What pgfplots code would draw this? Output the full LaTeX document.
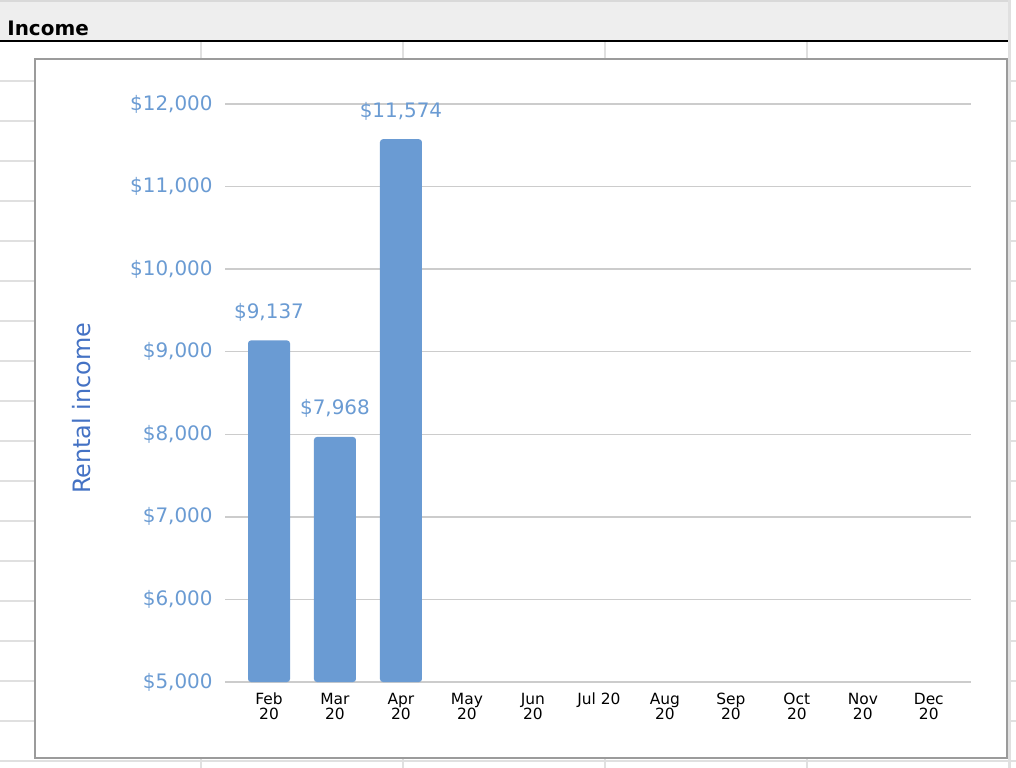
\documentclass[border=0pt]{standalone}
\usepackage{fontspec}
\setmainfont{DejaVu Sans}
\usepackage{pgfplots}
\pgfplotsset{compat=1.18}
\definecolor{barblue}{RGB}{106,155,211}
\definecolor{labelblue}{RGB}{68,114,196}
\definecolor{gridgray}{RGB}{204,204,204}
\definecolor{sheetline}{RGB}{224,224,224}
\definecolor{headgray}{RGB}{238,238,238}
\definecolor{framegray}{RGB}{155,155,155}

\begin{document}
\begin{tikzpicture}
% spreadsheet background, in screen pixels (1 px = 0.5bp)
\begin{scope}[x=0.5bp,y=-0.5bp]
  \useasboundingbox (0,0) rectangle (1016,768);
  \fill[white] (0,0) rectangle (1016,768);
  \foreach \yy in {81,121,...,761} \draw[sheetline, line width=0.75bp] (0,\yy) -- (1016,\yy);
  \foreach \xx in {201,403,605,807} \draw[sheetline, line width=0.75bp] (\xx,42) -- (\xx,768);
  \fill[sheetline] (1008,0) rectangle (1011,768);
  \fill[headgray] (0,2) rectangle (1008,40);
  \fill[black!15] (0,0) rectangle (1008,2);
  \draw[black, line width=1bp] (0,41) -- (1008,41);
  \node[anchor=base west, inner sep=0pt, font=\bfseries\fontsize{10}{12}\selectfont] at (7,35) {Income};
  \draw[framegray, line width=1bp, fill=white] (35,59) rectangle (1007,758);
\end{scope}
\begin{axis}[
    at={(112.5bp,-341bp)}, anchor=south west,
    scale only axis,
    width=373bp, height=293.13bp,
    xmin=-0.667, xmax=10.64,
    ymin=5000, ymax=12100,
    ybar, bar width=21bp,
    axis line style={draw=none},
    major tick length=0pt,
    ymajorgrids,
    grid style={gridgray, line width=0.7bp},
    ytick={5000,6000,...,12000},
    scaled y ticks=false,
    xtick={0,...,10},
    xticklabels={{Feb\\20},{Mar\\20},{Apr\\20},{May\\20},{Jun\\20},{Jul 20\\\mbox{}},{Aug\\20},{Sep\\20},{Oct\\20},{Nov\\20},{Dec\\20}},
    xticklabel style={anchor=base, inner sep=0pt, yshift=-18.5bp, align=center,
        font=\fontsize{7.75}{7.5}\selectfont},
    /pgf/number format/.cd, fixed, precision=0, 1000 sep={,}, assume math mode=true,
    /pgfplots/.cd,
    yticklabel={\$\pgfmathprintnumber{\tick}},
    yticklabel style={anchor=east, inner sep=0pt, xshift=-6bp, text=barblue,
        font=\fontsize{10}{12}\selectfont},
    ylabel={Rental income},
    ylabel style={at={(axis description cs:-0.1917,0.467)}, anchor=center,
        text=labelblue, font=\fontsize{12}{14}\selectfont},
    every node near coord/.append style={anchor=base, yshift=11bp, inner sep=0pt,
        text=barblue, font=\fontsize{10}{12}\selectfont},
  ]
  \addplot[fill=barblue, draw=none, rounded corners=1.5bp,
      nodes near coords={\$\pgfmathprintnumber{\pgfplotspointmeta}}]
    coordinates {(0,9137) (1,7968) (2,11574)};
\end{axis}
\end{tikzpicture}
\end{document}
